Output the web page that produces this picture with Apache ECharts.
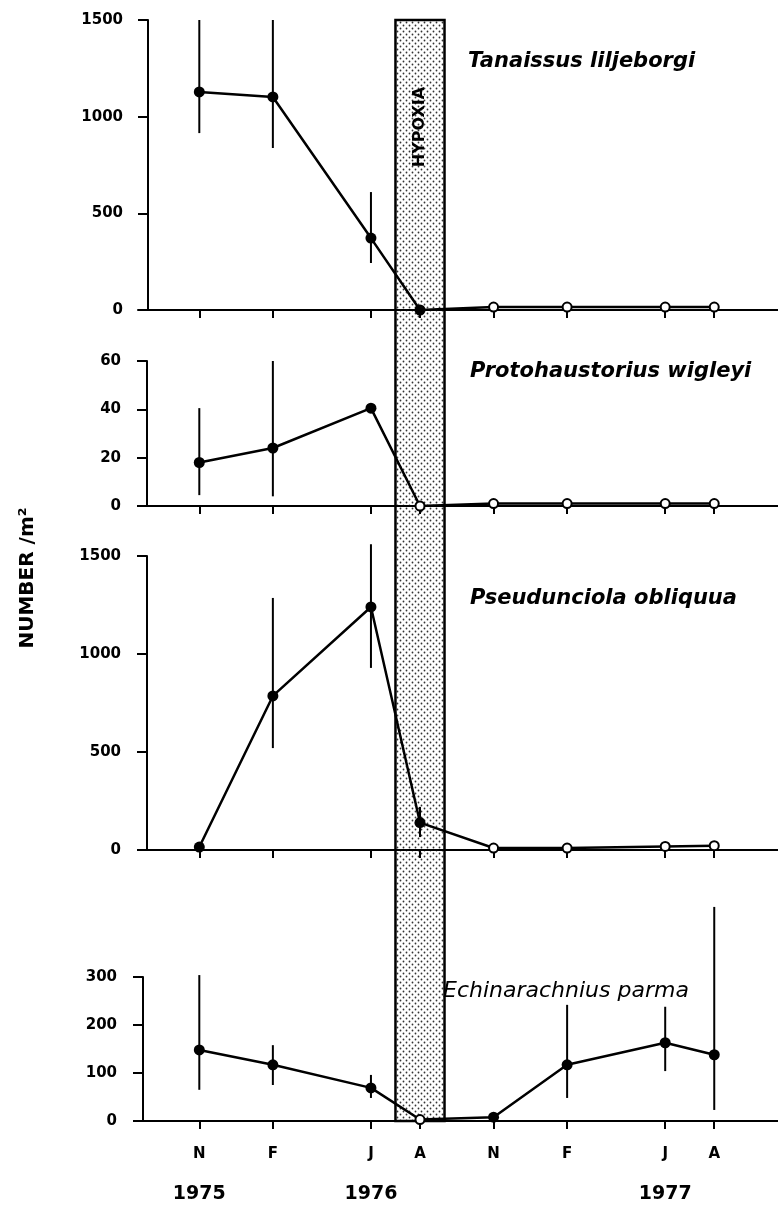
<!DOCTYPE html>
<html>
<head>
<meta charset="utf-8">
<script src="https://cdn.jsdelivr.net/npm/echarts@6/dist/echarts.min.js"></script>
<style>
html, body { margin: 0; padding: 0; background: #fff; }
#chart { width: 778px; height: 1208px; }
</style>
</head>
<body>
<div id="chart"></div>
<script>
// x is months counted from November 1975
let months = [0, 3, 7, 9, 12, 15, 19, 21];
let month_labels = ['N', 'F', 'J', 'A', 'N', 'F', 'J', 'A'];
let year_pos = [0, 7, 19];
let year_labels = ['1975', '1976', '1977'];
let hypoxia = [8, 10];

let species = ['Tanaissus liljeborgi', 'Protohaustorius wigleyi', 'Pseudunciola obliquua', 'Echinarachnius parma'];

// values per sampling date, open = hollow marker
let tanaissus = [1128, 1102, 372, 0, 15, 15, 15, 15];
let tanaissus_open = [0, 0, 0, 0, 1, 1, 1, 1];
let tanaissus_err = [[0, 915, 1500], [3, 838, 1500], [7, 243, 610]];

let protohaustorius = [18, 24, 40.5, 0, 1, 1, 1, 1];
let protohaustorius_open = [0, 0, 0, 1, 1, 1, 1, 1];
let protohaustorius_err = [[0, 4.5, 40.5], [3, 4, 60]];

let pseudunciola = [15, 786, 1240, 140, 10, 10, 18, 22];
let pseudunciola_open = [0, 0, 0, 0, 1, 1, 1, 1];
let pseudunciola_err = [[3, 520, 1286], [7, 929, 1560], [9, 66, 220]];

let echinarachnius = [148, 117, 69, 3, 8, 117, 163, 138];
let echinarachnius_open = [0, 0, 0, 1, 0, 0, 0, 0];
let echinarachnius_err = [[0, 65, 304], [3, 75, 158], [7, 48, 96], [15, 48, 242], [19, 104, 238], [21, 23, 446]];

let y_max = [1500, 60, 1500, 300];
let y_step = [500, 20, 500, 100];

let panel_top = [20, 361, 556, 977];
let panel_height = [290, 145, 294, 144];
let axis_shift = [-10, -9, -9, -5];

let x_min = -2.5;
let x_max = 23.6;

function makeDots() {
    let c = document.createElement('canvas');
    c.width = 6;
    c.height = 6;
    let ctx = c.getContext('2d');
    ctx.fillStyle = '#fff';
    ctx.fillRect(0, 0, 6, 6);
    ctx.fillStyle = '#333';
    ctx.beginPath();
    ctx.arc(1.5, 1.5, 0.9, 0, Math.PI * 2);
    ctx.arc(4.5, 4.5, 0.9, 0, Math.PI * 2);
    ctx.fill();
    return c;
}

function lineSeries(values, open, idx) {
    return {
        type: 'line',
        xAxisIndex: idx,
        yAxisIndex: idx,
        symbol: 'circle',
        lineStyle: { color: '#000', width: 2.5 },
        itemStyle: { color: '#000' },
        z: 4,
        data: values.map(function (v, i) {
            if (open[i]) {
                return { value: [months[i], v], symbolSize: 9,
                    itemStyle: { color: '#fff', borderColor: '#000', borderWidth: 2 } };
            }
            return { value: [months[i], v], symbolSize: 11 };
        })
    };
}

function errSeries(rows, idx) {
    return {
        type: 'custom',
        xAxisIndex: idx,
        yAxisIndex: idx,
        clip: false,
        z: 3,
        encode: { x: 0, y: [1, 2] },
        data: rows,
        renderItem: function (params, api) {
            let lo = api.coord([api.value(0), api.value(1)]);
            let hi = api.coord([api.value(0), api.value(2)]);
            return {
                type: 'line',
                shape: { x1: lo[0], y1: lo[1], x2: hi[0], y2: hi[1] },
                style: { stroke: '#000', lineWidth: 2 }
            };
        }
    };
}

function drawChart() {
    let my_chart = echarts.init(document.getElementById('chart'));
    let dots = makeDots();
    let font = '"DejaVu Sans", sans-serif';

    let grids = [];
    let x_axes = [];
    let y_axes = [];
    for (let i = 0; i < 4; i++) {
        grids.push({ left: 138, right: 0, top: panel_top[i], height: panel_height[i] });
        x_axes.push({
            type: 'value', gridIndex: i, min: x_min, max: x_max,
            splitLine: { show: false },
            axisLine: { onZero: false, lineStyle: { color: '#000', width: 2 } },
            axisTick: { customValues: months, length: 8, lineStyle: { color: '#000', width: 2 } },
            axisLabel: {
                show: i == 3,
                customValues: months,
                margin: 26,
                color: '#000',
                fontFamily: font,
                fontWeight: 'bold',
                fontSize: 15,
                formatter: function (v) { return month_labels[months.indexOf(v)]; }
            }
        });
        y_axes.push({
            type: 'value', gridIndex: i, min: 0, max: y_max[i], interval: y_step[i],
            offset: axis_shift[i],
            splitLine: { show: false },
            axisLine: { show: true, onZero: false, lineStyle: { color: '#000', width: 2 } },
            axisTick: { show: true, length: 10, lineStyle: { color: '#000', width: 2 } },
            axisLabel: {
                margin: 25 + axis_shift[i] + 10 - (i == 3 ? 4 : 0),
                color: '#000', fontFamily: font, fontWeight: 'bold', fontSize: 15,
                formatter: function (v) { return String(v); }
            }
        });
    }
    // year row under the month letters
    x_axes.push({
        type: 'value', gridIndex: 3, min: x_min, max: x_max, position: 'bottom',
        splitLine: { show: false }, axisLine: { show: false }, axisTick: { show: false },
        axisLabel: {
            customValues: year_pos, margin: 64, color: '#000',
            fontFamily: font, fontWeight: 'bold', fontSize: 19,
            formatter: function (v) { return year_labels[year_pos.indexOf(v)]; }
        }
    });
    // full-height grid for the hypoxia band
    grids.push({ left: 138, right: 0, top: 20, bottom: 1208 - 1121 });
    x_axes.push({ type: 'value', gridIndex: 4, min: x_min, max: x_max, show: false });
    y_axes.push({ type: 'value', gridIndex: 4, min: 0, max: 1, show: false });

    let series = [
        {
            type: 'custom',
            xAxisIndex: 5,
            yAxisIndex: 4,
            clip: false,
            z: -1,
            data: [hypoxia],
            renderItem: function (params, api) {
                let p0 = api.coord([api.value(0), 1]);
                let p1 = api.coord([api.value(1), 0]);
                return {
                    type: 'group',
                    children: [
                        {
                            type: 'rect',
                            shape: { x: p0[0], y: p0[1], width: p1[0] - p0[0], height: p1[1] - p0[1] },
                            style: { fill: { image: dots, repeat: 'repeat' }, stroke: '#000', lineWidth: 2.5 }
                        },
                        {
                            type: 'text',
                            x: (p0[0] + p1[0]) / 2,
                            y: p0[1] + 107,
                            rotation: Math.PI / 2,
                            style: {
                                text: 'HYPOXIA', align: 'center', verticalAlign: 'middle',
                                font: 'bold 16px "DejaVu Sans"', fill: '#000'
                            }
                        }
                    ]
                };
            }
        },
        errSeries(tanaissus_err, 0),
        lineSeries(tanaissus, tanaissus_open, 0),
        errSeries(protohaustorius_err, 1),
        lineSeries(protohaustorius, protohaustorius_open, 1),
        errSeries(pseudunciola_err, 2),
        lineSeries(pseudunciola, pseudunciola_open, 2),
        errSeries(echinarachnius_err, 3),
        lineSeries(echinarachnius, echinarachnius_open, 3)
    ];

    let label_font = 'italic bold 21px "DejaVu Sans"';
    let option = {
        animation: false,
        backgroundColor: '#fff',
        grid: grids,
        xAxis: x_axes,
        yAxis: y_axes,
        series: series,
        graphic: [
            { type: 'text', left: 468, top: 51, style: { text: species[0], font: label_font, fill: '#000' } },
            { type: 'text', left: 470, top: 361, style: { text: species[1], font: label_font, fill: '#000' } },
            { type: 'text', left: 470, top: 588, style: { text: species[2], font: label_font, fill: '#000' } },
            { type: 'text', left: 443, top: 980, style: { text: species[3], font: 'italic 22px "DejaVu Sans"', fill: '#000' } },
            {
                type: 'text', x: 28, y: 578, rotation: Math.PI / 2,
                style: { text: 'NUMBER /m²', align: 'center', verticalAlign: 'middle', font: 'bold 20px "DejaVu Sans"', fill: '#000' }
            }
        ]
    };

    my_chart.setOption(option);
}

drawChart();
</script>
</body>
</html>
